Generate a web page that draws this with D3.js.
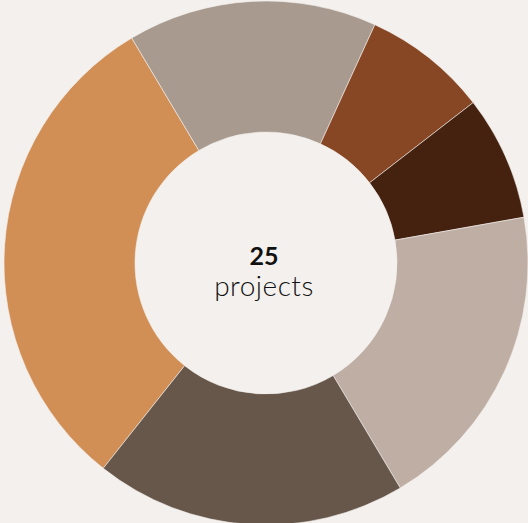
<!DOCTYPE html>
<html>
<head>
<meta charset="utf-8">
<script src="https://cdn.jsdelivr.net/npm/d3@7"></script>
<style>
  html, body { margin: 0; padding: 0; background: #f3f0ed; }
  svg { display: block; }
</style>
</head>
<body>
<div id="chart"></div>
<script>
"use strict";

var width = 528;
var height = 523;

// slices, clockwise from the lower-left one
var categories = ["A", "B", "C", "D", "E", "F"];
var values = [8, 4, 2, 2, 5, 5];
var colors = ["#d18e55", "#a89a8f", "#874724", "#45220f", "#bfaea4", "#67574a"];
var totalLabel = "25";
var unitLabel = "projects";

var svg = d3.select("#chart").append("svg")
  .attr("width", width).attr("height", height);

var cx = 266, cy = 263;
var outerR = 262, innerR = 131;

var pie = d3.pie().sort(null).value(function (d, i) {
  return values[i];
}).startAngle(218.4 * Math.PI / 180).endAngle((218.4 + 360) * Math.PI / 180);

var arc = d3.arc().innerRadius(innerR).outerRadius(outerR);

var g = svg.append("g").attr("transform", "translate(" + cx + "," + cy + ")");

g.selectAll("path").data(pie(categories)).enter().append("path")
  .attr("d", arc)
  .attr("fill", function (d, i) { return colors[i]; })
  .attr("stroke", "#f3f0ed")
  .attr("stroke-width", 0.6);

// centre label
g.append("text")
  .attr("text-anchor", "middle")
  .attr("x", -2)
  .attr("y", 2)
  .style("font-family", "Lato, sans-serif")
  .style("font-weight", "bold")
  .style("font-size", "25px")
  .attr("fill", "#111")
  .text(totalLabel);

g.append("text")
  .attr("text-anchor", "middle")
  .attr("x", -2)
  .attr("y", 33)
  .style("font-family", "Lato, sans-serif")
  .style("font-weight", "300")
  .style("font-size", "28px")
  .style("letter-spacing", "0.5px")
  .attr("fill", "#111")
  .text(unitLabel);
</script>
</body>
</html>
